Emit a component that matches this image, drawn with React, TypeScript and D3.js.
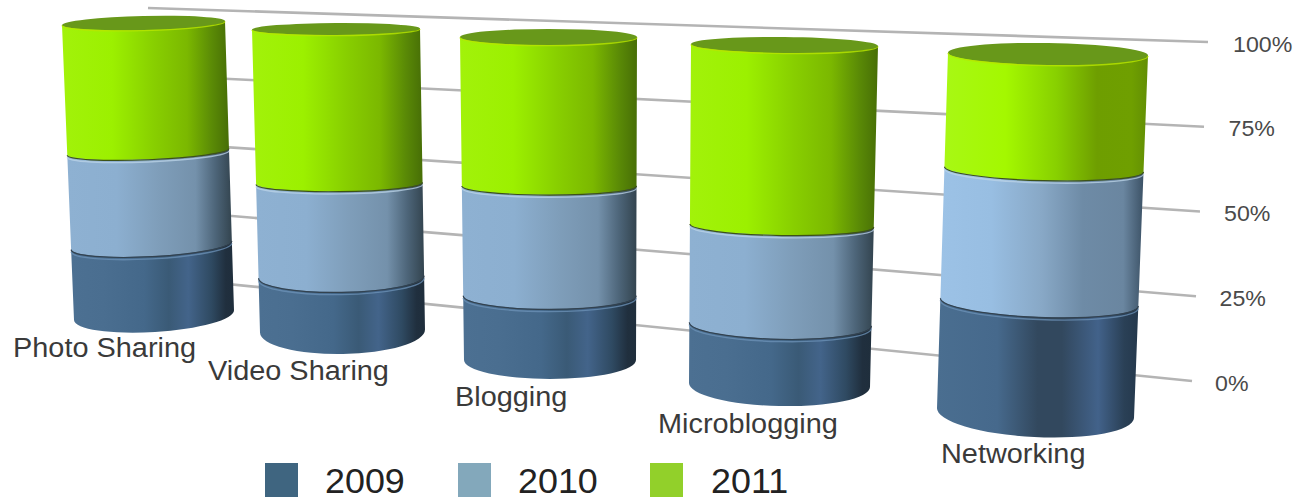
import React from "react";
import * as d3 from "d3";

// Values
const categories = ["Photo Sharing", "Video Sharing", "Blogging", "Microblogging", "Networking"];
const years = ["2009", "2010", "2011"];
const values2009 = [24, 18, 20, 18, 31];
const values2010 = [32, 31, 34, 29, 37];
const values2011 = [44, 51, 46, 53, 32];
const percentTicks = [0, 25, 50, 75, 100];

// Cylinder layout, one entry per category (back row recedes to the left)
const topLeft = [62, 252, 460, 691, 948];
const topRight = [225, 420, 637, 878, 1148];
const baseLeft = [74, 260, 464, 689, 937];
const baseRight = [234, 425, 636, 870, 1134];
const topY = [23, 29, 37, 45, 54];
const baseY = [315, 331, 360, 385, 413];
const topTilt = [-4, -1, 0, 2, 3];
const baseTilt = [-10, -3, 0, 4, 10];
const topRy = [7, 6, 8, 8, 11];
const baseRy = [17, 23, 19, 21, 24];
const labelX = [13, 208, 455, 658, 941];
const labelY = [357, 380, 406, 433, 463];

// Styling
const legendColors = ["#3f6580", "#83a8bb", "#92d02a"];
const legendSwatchX = [265, 458, 650];
const legendTextX = [325, 518, 711];
type Stop = [number, string];
const shading: Stop[][] = [
  [[0, "#4c7092"], [0.2, "#4a6e90"], [0.45, "#44688a"], [0.6, "#3a5a76"], [0.72, "#43648a"], [0.86, "#2f4a62"], [0.95, "#202f3e"], [1, "#1f2e3c"]],
  [[0, "#8eb1d2"], [0.3, "#8cafd0"], [0.55, "#7f9eba"], [0.78, "#7491ab"], [0.9, "#4d6579"], [1, "#33444f"]],
  [[0, "#a2f20a"], [0.3, "#9cf000"], [0.55, "#88cf00"], [0.75, "#7bb800"], [0.9, "#5a8a06"], [1, "#476e06"]],
];
const shadingLast: Stop[][] = [
  [[0, "#4a6e90"], [0.3, "#46698c"], [0.5, "#32485e"], [0.62, "#32485e"], [0.8, "#42628a"], [0.93, "#2a4056"], [1, "#24384c"]],
  [[0, "#9cc2e6"], [0.25, "#98bee2"], [0.5, "#88a8c6"], [0.7, "#6e8ba6"], [0.9, "#6a86a0"], [1, "#3c5266"]],
  [[0, "#a8f814"], [0.3, "#a4f800"], [0.55, "#88d000"], [0.75, "#6e9e00"], [0.92, "#6f9f00"], [1, "#628e04"]],
];
const capColor = "#68981a";

const lerp = (a: number, b: number, t: number) => a + (b - a) * t;

// Normalised stacks, 0-100 for every category
const rows = categories.map((c, i) => ({
  category: c,
  "2009": values2009[i],
  "2010": values2010[i],
  "2011": values2011[i],
}));
const stacks = d3.stack<any>().keys(years)(rows);

// Back wall gridlines: each end of the wall has its own vertical scale
const wallLeftY = d3.scaleLinear().domain([0, 100]).range([276, 8]);
const wallRightY = d3.scaleLinear().domain([0, 100]).range([381, 42]);
const wallRightX = d3.scaleLinear().domain([0, 100]).range([1192, 1208]);
const wallLeftX = 148;
const tickTextX = d3.scaleLinear().domain([0, 100]).range([1215, 1233]);

// Ring of a cylinder at a given percent height; rings open up toward the base
function ring(col: number, pct: number) {
  const t = pct / 100;
  const y = d3.scaleLinear().domain([0, 100]).range([baseY[col], topY[col]]);
  const left = lerp(baseLeft[col], topLeft[col], t);
  const right = lerp(baseRight[col], topRight[col], t);
  const tilt = lerp(baseTilt[col], topTilt[col], t);
  const ryVal = topRy[col] + (baseRy[col] - topRy[col]) * Math.pow(1 - t, 3);
  const cy = y(pct);
  const rx = (right - left) / 2;
  const rot = (Math.atan2(tilt, right - left) * 180) / Math.PI;
  return { left, right, ly: cy - tilt / 2, rEndY: cy + tilt / 2, ryVal, rx, rot };
}

const frontArc = (r: ReturnType<typeof ring>, dy = 0) =>
  `M${r.left},${r.ly + dy}A${r.rx},${r.ryVal},${r.rot},0,0,${r.right},${r.rEndY + dy}`;

function bandPath(col: number, y0: number, y1: number) {
  const lo = ring(col, y0);
  const hi = ring(col, y1);
  return `M${hi.left},${hi.ly}L${hi.right},${hi.rEndY}L${lo.right},${lo.rEndY}A${lo.rx},${lo.ryVal},${lo.rot},0,1,${lo.left},${lo.ly}Z`;
}

const sans = "'Liberation Sans', Arial, sans-serif";

export default function App() {
  return (
    <svg
      width={1296}
      height={500}
      viewBox="0 0 1296 500"
      style={{ position: "absolute", left: 0, top: 0, background: "#fff" }}
      fontFamily={sans}
    >
      <defs>
        {[shading, shadingLast].map((set, v) =>
          set.map((stops, s) => (
            <linearGradient key={`${v}-${s}`} id={`shade-${v}-${s}`} x1="0" x2="1" y1="0" y2="0">
              {stops.map(([o, c]) => (
                <stop key={o} offset={o} stopColor={c} />
              ))}
            </linearGradient>
          ))
        )}
      </defs>

      {percentTicks.map((p) => (
        <g key={p}>
          <line
            x1={wallLeftX}
            y1={wallLeftY(p)}
            x2={wallRightX(p)}
            y2={wallRightY(p)}
            stroke="#b4b4b4"
            strokeWidth={2.6}
          />
          <text
            transform={`translate(${tickTextX(p)},${wallRightY(p) + 9.5}) scale(1.03,1)`}
            fontSize={22.5}
            fill="#4a4a4a"
          >
            {p}%
          </text>
        </g>
      ))}

      {categories.map((c, col) => (
        <g key={c}>
          {stacks.map((layer, s) => {
            const [y0, y1] = layer[col];
            const variant = col === categories.length - 1 ? 1 : 0;
            return <path key={layer.key} d={bandPath(col, y0, y1)} fill={`url(#shade-${variant}-${s})`} />;
          })}
          {/* Seams between stacked sections: light lip on the lower drum, dark edge above it */}
          {stacks.slice(0, -1).map((layer, s) => {
            const r = ring(col, layer[col][1]);
            return (
              <g key={layer.key} fill="none">
                <path d={frontArc(r, 2.6)} stroke={s === 0 ? "#6d93b8" : "#bcd4e8"} strokeWidth={1.4} strokeOpacity={0.75} />
                <path d={frontArc(r, 0.4)} stroke={s === 0 ? "#33424f" : "#3d5216"} strokeWidth={1.2} />
              </g>
            );
          })}
          {(() => {
            const r = ring(col, 100);
            const cx = (r.left + r.right) / 2;
            const cy = (r.ly + r.rEndY) / 2;
            return (
              <>
                <ellipse
                  cx={cx}
                  cy={cy}
                  rx={r.rx}
                  ry={r.ryVal}
                  transform={`rotate(${r.rot},${cx},${cy})`}
                  fill={capColor}
                />
                <path d={frontArc(r, 0.6)} fill="none" stroke="#b9e600" strokeWidth={1.4} strokeOpacity={0.8} />
              </>
            );
          })()}
        </g>
      ))}

      {categories.map((c, i) => (
        <text
          key={c}
          transform={`translate(${labelX[i]},${labelY[i]}) scale(1.07,1)`}
          fontSize={27}
          fill="#3a3a3a"
        >
          {c}
        </text>
      ))}

      {years.map((y, i) => (
        <g key={y}>
          <rect x={legendSwatchX[i]} y={463} width={33} height={34} fill={legendColors[i]} />
          <text transform={`translate(${legendTextX[i]},492.7) scale(1.04,1)`} fontSize={34.5} fill="#222">
            {y}
          </text>
        </g>
      ))}
    </svg>
  );
}
